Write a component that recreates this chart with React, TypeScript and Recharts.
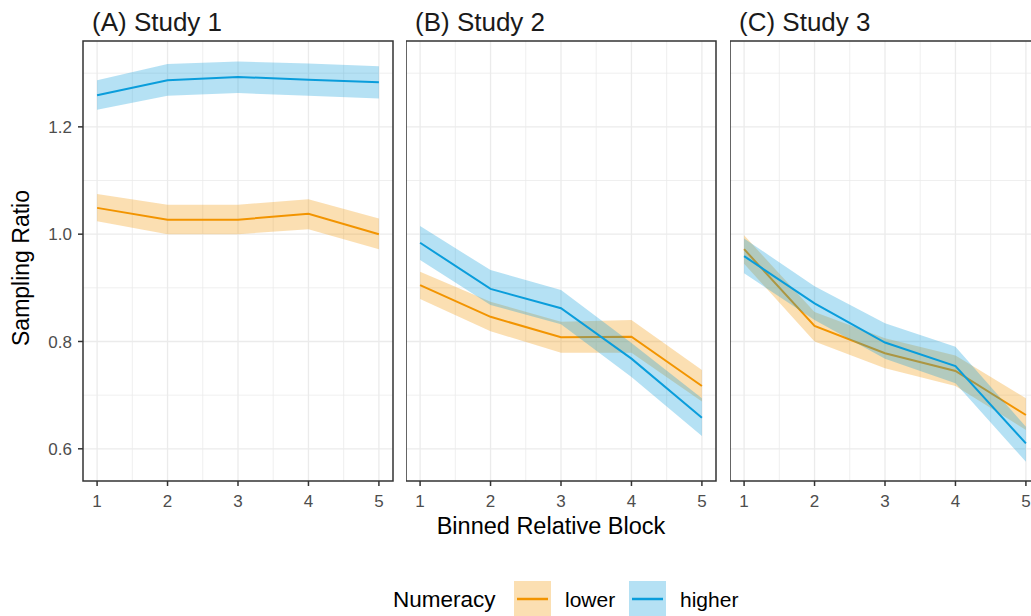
import React from "react";
import {
  ComposedChart,
  Area,
  Line,
  XAxis,
  YAxis,
  ReferenceLine,
  ReferenceArea,
} from "recharts";

const blocks = [1, 2, 3, 4, 5];

// Study 1
const s1LowerMean = [1.049, 1.027, 1.027, 1.038, 1.0];
const s1LowerLo = [1.024, 1.0, 1.0, 1.009, 0.972];
const s1LowerHi = [1.075, 1.055, 1.055, 1.065, 1.029];
const s1HigherMean = [1.259, 1.287, 1.293, 1.288, 1.283];
const s1HigherLo = [1.232, 1.258, 1.263, 1.258, 1.253];
const s1HigherHi = [1.287, 1.317, 1.322, 1.318, 1.313];

// Study 2
const s2LowerMean = [0.905, 0.846, 0.808, 0.809, 0.717];
const s2LowerLo = [0.879, 0.819, 0.779, 0.779, 0.688];
const s2LowerHi = [0.93, 0.874, 0.837, 0.84, 0.747];
const s2HigherMean = [0.984, 0.898, 0.862, 0.768, 0.658];
const s2HigherLo = [0.952, 0.868, 0.832, 0.734, 0.624];
const s2HigherHi = [1.015, 0.933, 0.896, 0.797, 0.694];

// Study 3
const s3LowerMean = [0.972, 0.829, 0.778, 0.745, 0.663];
const s3LowerLo = [0.945, 0.8, 0.75, 0.717, 0.635];
const s3LowerHi = [0.998, 0.855, 0.806, 0.774, 0.694];
const s3HigherMean = [0.959, 0.871, 0.798, 0.754, 0.61];
const s3HigherLo = [0.927, 0.84, 0.768, 0.722, 0.576];
const s3HigherHi = [0.992, 0.903, 0.834, 0.79, 0.641];

const panelTitles = ["(A) Study 1", "(B) Study 2", "(C) Study 3"];
const yTicks = [0.6, 0.8, 1.0, 1.2];
const yMinor = [0.7, 0.9, 1.1, 1.3];
const xMinor = [1.5, 2.5, 3.5, 4.5];
const X_DOMAIN: [number, number] = [0.8, 5.2];
const Y_DOMAIN: [number, number] = [0.54, 1.36];

const ORANGE = "#F29400";
const BLUE = "#0A9DDB";
const GRID = "#EBEBEB";
const FONT = "'Liberation Sans', Arial, Helvetica, sans-serif";
const TICK_SIZE = 17;

type Row = {
  block: number;
  lowerMean: number;
  lowerBand: [number, number];
  higherMean: number;
  higherBand: [number, number];
};

const buildRows = (
  lm: number[], ll: number[], lh: number[],
  hm: number[], hl: number[], hh: number[]
): Row[] =>
  blocks.map((b, i) => ({
    block: b,
    lowerMean: lm[i],
    lowerBand: [ll[i], lh[i]],
    higherMean: hm[i],
    higherBand: [hl[i], hh[i]],
  }));

const studies = [
  buildRows(s1LowerMean, s1LowerLo, s1LowerHi, s1HigherMean, s1HigherLo, s1HigherHi),
  buildRows(s2LowerMean, s2LowerLo, s2LowerHi, s2HigherMean, s2HigherLo, s2HigherHi),
  buildRows(s3LowerMean, s3LowerLo, s3LowerHi, s3HigherMean, s3HigherLo, s3HigherHi),
];

// plot-area left edges of the three facets
const panelLeft = [83, 406, 730];
const PANEL_W = 310;

const XTick = (props: any) => {
  const { x, y, payload } = props;
  return (
    <text
      x={x}
      y={y}
      dy="0.71em"
      textAnchor="middle"
      fontSize={TICK_SIZE}
      fontFamily={FONT}
      fill="#4D4D4D"
    >
      {payload.value}
    </text>
  );
};

const YTick = (props: any) => {
  const { x, y, payload } = props;
  return (
    <text
      x={x}
      y={y}
      dy="0.355em"
      textAnchor="end"
      fontSize={TICK_SIZE}
      fontFamily={FONT}
      fill="#4D4D4D"
    >
      {Number(payload.value).toFixed(1)}
    </text>
  );
};

const Panel = ({ data, showY }: { data: Row[]; showY: boolean }) => {
  const yw = showY ? 83 : 0;
  return (
    <ComposedChart
      width={PANEL_W + yw + 10}
      height={530}
      data={data}
      margin={{ top: 41, right: 10, bottom: 9, left: 0 }}
    >
      <XAxis
        type="number"
        dataKey="block"
        domain={X_DOMAIN}
        ticks={blocks}
        allowDataOverflow
        height={40}
        axisLine={false}
        tickSize={5}
        tickMargin={9}
        tickLine={{ stroke: "#333333", strokeWidth: 1.5 }}
        tick={<XTick />}
      />
      <YAxis
        type="number"
        domain={Y_DOMAIN}
        ticks={yTicks}
        allowDataOverflow
        hide={!showY}
        width={yw}
        axisLine={false}
        tickSize={5}
        tickMargin={6}
        tickLine={{ stroke: "#333333", strokeWidth: 1.5 }}
        tick={<YTick />}
      />
      {yMinor.map((v) => (
        <ReferenceLine key={`ym${v}`} y={v} stroke={GRID} strokeWidth={0.8} zIndex={-100} />
      ))}
      {xMinor.map((v) => (
        <ReferenceLine key={`xm${v}`} x={v} stroke={GRID} strokeWidth={0.8} zIndex={-100} />
      ))}
      {yTicks.map((v) => (
        <ReferenceLine key={`y${v}`} y={v} stroke={GRID} strokeWidth={1.3} zIndex={-100} />
      ))}
      {blocks.map((v) => (
        <ReferenceLine key={`x${v}`} x={v} stroke={GRID} strokeWidth={1.3} zIndex={-100} />
      ))}
      <Area
        dataKey="lowerBand"
        stroke="none"
        fill={ORANGE}
        fillOpacity={0.3}
        isAnimationActive={false}
        activeDot={false}
        zIndex={100}
      />
      <Line
        dataKey="lowerMean"
        stroke={ORANGE}
        strokeWidth={2}
        dot={false}
        activeDot={false}
        isAnimationActive={false}
        zIndex={110}
      />
      <Area
        dataKey="higherBand"
        stroke="none"
        fill={BLUE}
        fillOpacity={0.3}
        isAnimationActive={false}
        activeDot={false}
        zIndex={120}
      />
      <Line
        dataKey="higherMean"
        stroke={BLUE}
        strokeWidth={2}
        dot={false}
        activeDot={false}
        isAnimationActive={false}
        zIndex={130}
      />
      <ReferenceArea
        x1={X_DOMAIN[0]}
        x2={X_DOMAIN[1]}
        y1={Y_DOMAIN[0]}
        y2={Y_DOMAIN[1]}
        fill="none"
        stroke="#333333"
        strokeWidth={1.5}
        zIndex={200}
      />
    </ComposedChart>
  );
};

const LegendKey = ({ x, color }: { x: number; color: string }) => (
  <g>
    <rect x={x} y={581} width={37} height={40} fill={color} fillOpacity={0.3} />
    <line x1={x + 3} x2={x + 34} y1={599} y2={599} stroke={color} strokeWidth={2.5} />
  </g>
);

export default function App() {
  return (
    <div
      style={{
        position: "absolute",
        left: 0,
        top: 0,
        width: 1031,
        height: 616,
        overflow: "hidden",
        background: "#ffffff",
        fontFamily: FONT,
      }}
    >
      {studies.map((rows, i) => (
        <div
          key={i}
          style={{ position: "absolute", top: 0, left: i === 0 ? 0 : panelLeft[i] }}
        >
          <Panel data={rows} showY={i === 0} />
        </div>
      ))}
      <svg
        width={1031}
        height={616}
        style={{ position: "absolute", left: 0, top: 0, pointerEvents: "none" }}
        fontFamily={FONT}
      >
        {panelTitles.map((t, i) => (
          <text key={t} x={panelLeft[i] + 9} y={31} fontSize={26} fill="#1A1A1A">
            {t}
          </text>
        ))}
        <text
          x={0}
          y={0}
          fontSize={23}
          fill="#000000"
          textAnchor="middle"
          transform="translate(29,268) rotate(-90)"
        >
          Sampling Ratio
        </text>
        <text x={551} y={534} fontSize={23.5} fill="#000000" textAnchor="middle">
          Binned Relative Block
        </text>
        <text x={393} y={607} fontSize={22.5} fill="#000000">
          Numeracy
        </text>
        <LegendKey x={514} color={ORANGE} />
        <text x={565} y={607} fontSize={21} fill="#000000">
          lower
        </text>
        <LegendKey x={629} color={BLUE} />
        <text x={680} y={607} fontSize={21} fill="#000000">
          higher
        </text>
      </svg>
    </div>
  );
}
